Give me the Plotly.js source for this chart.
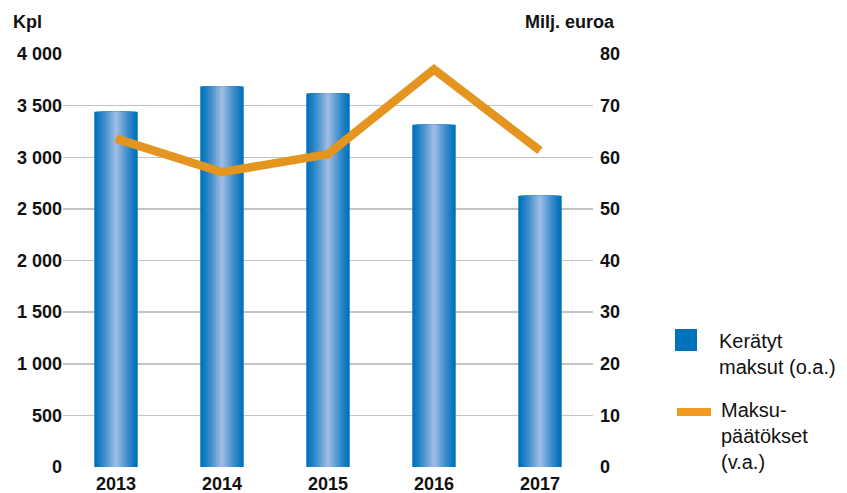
<!DOCTYPE html>
<html>
<head>
<meta charset="utf-8">
<script src="https://cdn.plot.ly/plotly-3.0.1.min.js"></script>
<style>html,body{margin:0;padding:0;background:#fff;}#chart{width:847px;height:493px;}</style>
</head>
<body>
<div id="chart"></div>
<script>
const years = ['2013', '2014', '2015', '2016', '2017'];
const maksut = [3440, 3685, 3618, 3315, 2628];          // Kerätyt maksut, kpl (left axis)
const paatokset = [63.6, 57.1, 60.6, 77.0, 61.3];       // Maksupäätökset, milj. euroa (right axis)
const leftTicks = [0, 500, 1000, 1500, 2000, 2500, 3000, 3500, 4000];
const leftTickText = ['0', '500', '1 000', '1 500', '2 000', '2 500', '3 000', '3 500', '4 000'];
const rightTicks = [0, 10, 20, 30, 40, 50, 60, 70, 80];

const W = 847, H = 493;
const M = {l: 63, r: 254, t: 54, b: 26};
const PW = W - M.l - M.r, PH = H - M.t - M.b;
const px = x => (x - M.l) / PW;
const py = y => (H - M.b - y) / PH;

// gradient bars: layered overlays from dark edges to light centre
const dark = [0, 114, 188], light = [156, 186, 226];
const layers = 14, fullW = 0.41;
const traces = [];
for (let i = 0; i < layers; i++) {
  const t = i / (layers - 1);
  const c = dark.map((d, k) => Math.round(d + (light[k] - d) * Math.pow(t, 1.2)));
  traces.push({
    type: 'bar', x: years, y: maksut, yaxis: 'y',
    width: fullW * (1 - i / layers),
    marker: {color: `rgb(${c[0]},${c[1]},${c[2]})`, line: {width: 0}},
    showlegend: false, hoverinfo: i === 0 ? 'x+y' : 'skip',
    name: 'Kerätyt maksut (o.a.)'
  });
}
traces.push({
  type: 'scatter', mode: 'lines', x: years, y: paatokset, yaxis: 'y2',
  line: {color: '#E3951F', width: 8.5},
  showlegend: false, name: 'Maksupäätökset (v.a.)'
});

const font = 'Liberation Sans, Arial, sans-serif';
const tf = {family: font, size: 18, weight: 'bold', color: '#111'};
const layout = {
  width: W, height: H,
  margin: M,
  paper_bgcolor: '#fff', plot_bgcolor: '#fff',
  barmode: 'overlay',
  showlegend: false,
  font: {family: font, color: '#000'},
  xaxis: {
    type: 'category', range: [-0.5, 4.5],
    showgrid: false, showline: false, zeroline: false, ticks: '',
    tickfont: tf, ticklabelstandoff: 4,
    automargin: false
  },
  yaxis: {
    range: [0, 4000], tickvals: leftTicks, ticktext: leftTickText,
    showgrid: true, gridcolor: '#c4c4c4', gridwidth: 1.5,
    zeroline: false, showline: false, ticks: '',
    tickfont: tf,
    automargin: false
  },
  yaxis2: {
    overlaying: 'y', side: 'right',
    range: [0, 80], tickvals: rightTicks,
    showgrid: false, zeroline: false, showline: false, ticks: '',
    tickfont: tf, ticklabelstandoff: 6,
    automargin: false
  },
  shapes: [
    {type: 'rect', xref: 'paper', yref: 'paper', x0: px(675), x1: px(697), y0: py(351), y1: py(329),
     fillcolor: '#0072BC', line: {width: 0}},
    {type: 'line', xref: 'paper', yref: 'paper', x0: px(677), x1: px(711), y0: py(412), y1: py(412),
     line: {color: '#F09A22', width: 8}}
  ],
  annotations: [
    {text: '<b>Kpl</b>', xref: 'paper', yref: 'paper', x: px(11), y: py(22), xanchor: 'left', yanchor: 'middle',
     showarrow: false, font: {family: font, size: 18, color: '#111'}},
    {text: '<b>Milj. euroa</b>', xref: 'paper', yref: 'paper', x: px(617), y: py(22), xanchor: 'right', yanchor: 'middle',
     showarrow: false, font: {family: font, size: 18, color: '#111'}},
    {text: 'Kerätyt<br>maksut (o.a.)', xref: 'paper', yref: 'paper', x: px(717), y: py(328), xanchor: 'left', yanchor: 'top',
     align: 'left', showarrow: false, font: {family: font, size: 20, color: '#111'}},
    {text: 'Maksu-<br>päätökset<br>(v.a.)', xref: 'paper', yref: 'paper', x: px(719), y: py(397), xanchor: 'left', yanchor: 'top',
     align: 'left', showarrow: false, font: {family: font, size: 20, color: '#111'}}
  ]
};

Plotly.newPlot('chart', traces, layout, {displayModeBar: false, staticPlot: true});
</script>
</body>
</html>
